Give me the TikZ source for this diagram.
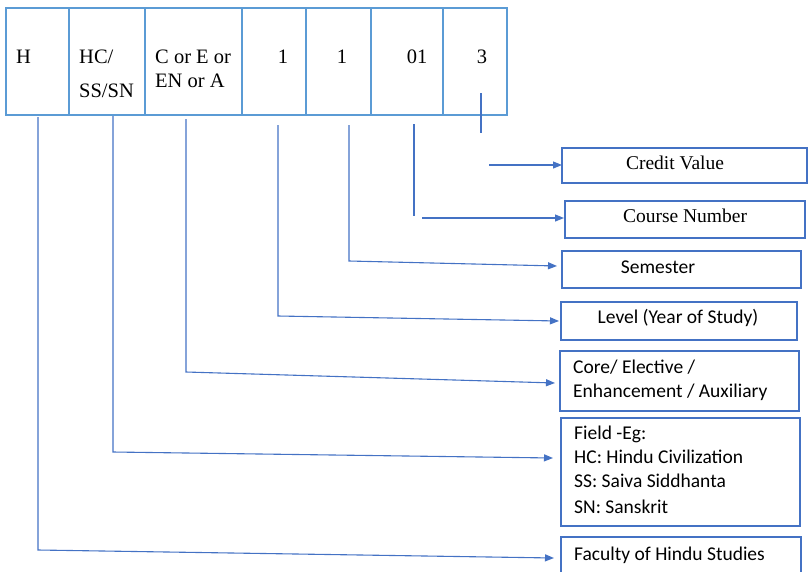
\documentclass[tikz,border=0pt]{standalone}
\usepackage{fontspec}
\setmainfont{Liberation Serif}
\newfontfamily\calib{Carlito}
\usetikzlibrary{arrows.meta}
\definecolor{topblue}{RGB}{91,155,213}
\definecolor{linkblue}{RGB}{68,114,196}
\begin{document}
\begin{tikzpicture}[x=1pt,y=-1pt,
  cell/.style={draw=topblue, line width=2.5pt, minimum height=107pt, inner sep=0pt, outer sep=0pt, anchor=north west},
  toptext/.style={font=\fontsize{20.5}{24}\selectfont, inner sep=0pt},
  rbox/.style={draw=linkblue, line width=1.2pt, inner sep=0pt, outer sep=0pt, anchor=north west},
  serifl/.style={font=\fontsize{19.5}{24}\selectfont, inner sep=0pt, anchor=base},
  sansl/.style={font=\calib\fontsize{19.5}{24}\selectfont, inner sep=0pt},
  link/.style={draw=linkblue, line width=1.1pt},
  arr/.style={link, -{Triangle[length=9pt,width=7pt]}}
]
\useasboundingbox (0,0) rectangle (808,571);

% top code strip
\node[cell, minimum width=63pt] (b1) at (6,8) {};
\node[cell, minimum width=76pt] (b2) at (69,8) {};
\node[cell, minimum width=97pt] (b3) at (145,8) {};
\node[cell, minimum width=64pt] (b4) at (242,8) {};
\node[cell, minimum width=65pt] (b5) at (306,8) {};
\node[cell, minimum width=72pt] (b6) at (371,8) {};
\node[cell, minimum width=64pt] (b7) at (443,8) {};

\node[toptext, anchor=base west] (t1) at (16,63) {H};
\node[toptext, anchor=base west] (t2a) at (79,63) {HC/};
\node[toptext, anchor=base west] (t2b) at (79,97) {SS/SN};
\node[toptext, anchor=base west] (t3a) at (155,63) {C or E or};
\node[toptext, anchor=base west] (t3b) at (155,87) {EN or A};
\node[toptext, anchor=base] (t4) at (283,63) {1};
\node[toptext, anchor=base] (t5) at (342,63) {1};
\node[toptext, anchor=base] (t6) at (417,63) {01};
\node[toptext, anchor=base] (t7) at (482,63) {3};

% description boxes
\node[rbox, minimum width=245pt, minimum height=35pt] (crd) at (562,148) {};
\node[rbox, minimum width=240pt, minimum height=37pt] (crs) at (565,201) {};
\node[rbox, minimum width=239pt, minimum height=37pt] (sem) at (562,251) {};
\node[rbox, minimum width=236pt, minimum height=38pt] (lvl) at (561,302) {};
\node[rbox, minimum width=239pt, minimum height=60pt] (core) at (560,351) {};
\node[rbox, minimum width=239pt, minimum height=108pt] (fld) at (561,418) {};
\node[rbox, minimum width=240pt, minimum height=40pt] (fac) at (561,537) {};

\node[serifl] (crdt) at (675,169) {Credit Value};
\node[serifl] (crst) at (685,222) {Course Number};
\node[sansl, anchor=base] (semt) at (658,273) {Semester};
\node[sansl, anchor=base] (lvlt) at (678,323) {Level (Year of Study)};
\node[sansl, anchor=base west] (coret1) at (573,373) {Core/ Elective /};
\node[sansl, anchor=base west] (coret2) at (573,397) {Enhancement / Auxiliary};
\node[sansl, anchor=base west] (fldt1) at (574,439) {Field -Eg:};
\node[sansl, anchor=base west] (fldt2) at (574,463) {HC: Hindu Civilization};
\node[sansl, anchor=base west] (fldt3) at (574,487) {SS: Saiva Siddhanta};
\node[sansl, anchor=base west] (fldt4) at (574,513) {SN: Sanskrit};
\node[sansl, anchor=base west] (fact) at (574,560) {Faculty of Hindu Studies};

% connector coordinates
\coordinate (h0) at (38,117);   \coordinate (h1) at (38,550);
\coordinate (s0) at (113,116);  \coordinate (s1) at (113,452);
\coordinate (c0) at (186,119);  \coordinate (c1) at (186,372);
\coordinate (l0) at (278,125);  \coordinate (l1) at (278,316);
\coordinate (m0) at (349,125);  \coordinate (m1) at (349,261);
\coordinate (n0) at (414,124);  \coordinate (n1) at (414,216);
\coordinate (n2) at (422,218);
\coordinate (v0) at (481,93);   \coordinate (v1) at (481,133);
\coordinate (v2) at (489,165);

% connectors
\draw[arr] (h0) -- (h1) -- ([xshift=-7pt,yshift=-1pt]fac.west);
\draw[arr] (s0) -- (s1) -- ([xshift=-8pt,yshift=14pt]fld.west);
\draw[arr] (c0) -- (c1) -- ([xshift=-5pt,yshift=-2pt]core.west);
\draw[arr] (l0) -- (l1) -- ([xshift=-2pt]lvl.west);
\draw[arr] (m0) -- (m1) -- ([xshift=-5pt,yshift=3.5pt]sem.west);
\draw[link] (n0) -- (n1);
\draw[arr] (n2) -- ([xshift=-1pt,yshift=1.5pt]crs.west);
\draw[link] (v0) -- (v1);
\draw[arr] (v2) -- ([xshift=0pt,yshift=0.5pt]crd.west);
\end{tikzpicture}
\end{document}
